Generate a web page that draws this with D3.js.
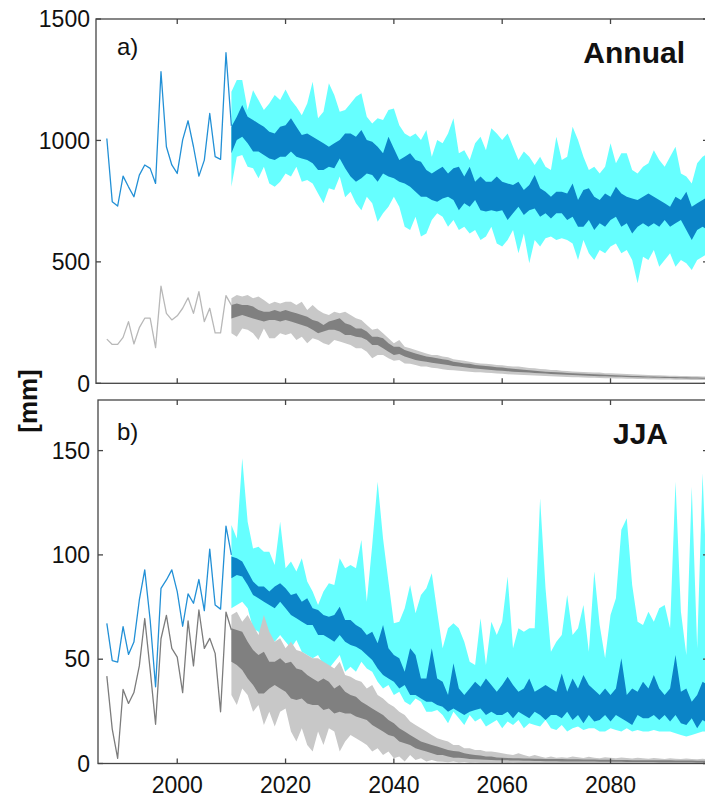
<!DOCTYPE html>
<html><head><meta charset="utf-8">
<script src="https://cdn.jsdelivr.net/npm/d3@7"></script>
<style>
body{margin:0;background:#fff}
svg{display:block}
text{font-family:Arial,"Liberation Sans",sans-serif;fill:#111}
</style></head>
<body><svg id="chart" width="705" height="801"></svg>
<script>
// ---------- DATA ----------
const obsYears = d3.range(1987, 2011);
const projYears = d3.range(2010, 2099);

const annObsBlue = [1008,748,730,853,809,768,857,899,885,823,1283,974,899,864,1002,1081,974,853,919,1111,933,922,1361,1060];
const annObsGray = [182,160,160,189,254,162,229,268,268,147,400,288,261,278,309,352,288,377,254,309,208,208,361,322];

const annHi = [1200,1249,1249,1125,1207,1166,1125,1152,1187,1166,
 1210,1166,1139,1104,1152,1242,1091,1118,1235,1187,
 1118,1125,1152,1180,1194,1098,1070,1091,1084,1125,
 1132,1063,1029,1015,1029,1002,1043,933,1002,988,
 1029,1091,947,960,919,988,1015,960,1050,1029,
 1002,1029,974,919,954,933,899,933,892,878,
 1015,919,933,1056,1002,933,878,892,864,892,
 988,906,947,947,878,864,892,906,960,919,
 892,933,974,864,851,823,906,933,947];
const annDh = [1056,1098,1146,1098,1084,1070,1056,1036,1029,1056,
 1063,1091,1056,1022,1029,1015,1002,988,974,988,
 1002,1029,1029,1015,1043,1002,995,974,947,1015,
 967,919,933,947,919,912,878,864,878,892,
 864,885,892,851,892,830,851,830,830,851,
 830,823,816,830,796,816,858,803,789,768,
 789,789,782,823,755,796,803,768,755,782,
 768,809,782,768,761,755,768,782,768,755,
 741,727,768,755,789,727,741,755,768];
const annDl = [947,1002,1015,988,954,954,940,926,919,933,
 933,954,933,926,919,906,878,878,892,885,
 926,885,851,830,844,864,858,830,864,851,
 844,830,823,809,789,768,768,755,748,761,
 768,755,713,741,727,755,713,707,713,707,
 713,672,700,727,693,713,720,686,700,679,
 700,700,672,686,645,645,672,631,659,645,
 672,686,645,659,617,645,659,645,659,645,
 672,645,659,672,631,590,631,645,631];
const annLo = [809,933,940,892,885,844,892,823,809,830,
 864,851,892,830,837,823,782,741,803,796,
 851,766,789,741,713,768,741,665,700,727,
 768,727,645,631,686,604,617,672,700,686,
 645,672,631,645,617,631,590,604,645,576,
 563,590,631,535,617,494,590,563,597,604,
 590,597,590,576,508,590,535,508,549,535,
 563,576,535,549,508,412,521,508,549,480,
 508,535,480,508,494,466,508,521,535];

const annGHi = [350,364,357,364,350,357,343,327,336,329,
 336,336,322,336,302,322,302,288,281,295,
 288,295,281,268,261,240,220,226,206,185,
 165,178,151,144,137,130,123,117,117,110,
 107,99,96,93,89,85,82,80,78,75,
 74,71,69,69,66,63,62,59,58,55,
 55,52,51,49,48,47,45,44,44,41,
 41,40,39,38,37,36,35,34,33,33,
 32,31,31,30,30,29,29,28,28];
const annGDh = [322,329,322,322,316,302,295,295,302,295,
 302,295,288,281,274,261,254,240,254,261,
 268,247,240,226,226,213,192,192,185,165,
 151,151,137,130,123,117,110,107,103,99,
 96,89,86,82,80,75,73,71,69,66,
 65,62,60,58,56,54,52,50,48,47,
 45,44,42,41,40,39,38,37,36,35,
 34,33,32,31,30,30,29,28,28,27,
 27,26,26,25,25,24,24,23,23];
const annGDl = [267,274,281,274,267,261,254,261,261,254,
 261,254,247,240,233,220,206,213,220,220,
 213,199,199,192,189,178,158,158,144,130,
 117,121,110,103,96,92,89,85,82,78,
 75,71,69,66,63,61,59,57,55,53,
 52,50,48,47,45,44,42,41,40,38,
 37,36,35,34,33,32,31,30,29,29,
 28,27,27,26,25,25,24,24,23,23,
 22,22,21,21,20,20,20,19,19];
const annGLo = [206,192,226,220,206,178,226,185,185,206,
 199,206,178,192,165,185,178,165,158,178,
 172,165,158,144,144,130,103,117,117,103,
 93,96,82,80,75,69,69,64,62,58,
 55,54,52,50,48,46,45,43,42,40,
 39,37,36,35,34,33,32,31,30,29,
 28,27,26,25,25,24,23,23,22,21,
 21,20,20,19,19,18,18,17,17,16,
 16,16,15,15,15,14,14,14,13];

const jjaObsBlue = [67.2,49.3,48.6,65.6,52.3,58.2,78.4,92.8,68.8,36.8,84.0,88.0,92.8,82.4,65.8,81.3,76.8,88.2,73.3,102.8,76.0,74.0,113.8,100.0];
const jjaObsGray = [41.9,16.5,2.5,35.5,28.8,34.0,46.8,69.5,45.0,18.8,59.8,71.0,55.2,51.0,34.0,68.4,46.8,73.6,55.2,60.0,52.8,24.8,72.6,64.0];

const jjaHi = [114.3,107.9,146.3,115.9,103.1,103.9,101.5,101.5,95.2,115.9,
 93.6,96.8,92.0,98.4,87.2,82.4,76.0,82.4,86.4,85.6,
 98.4,93.6,95.2,93.6,107.1,77.6,104.7,135.1,107.9,87.2,
 67.2,68.0,74.4,85.6,72.0,80.8,84.0,91.2,72.8,55.2,
 64.8,67.2,64.8,58.4,48.8,47.2,69.6,47.2,68.0,61.6,
 68.0,89.6,55.2,64.8,63.2,64.8,64.8,127.1,84.0,53.6,
 58.4,61.6,80.8,61.6,64.8,76.0,53.6,92.0,66.4,50.4,
 71.2,79.2,112.0,117.6,85.6,68.0,66.4,72.8,68.0,74.4,
 76.0,64.8,135.1,72.8,52.0,132.7,55.2,139.1,72.8];
const jjaDh = [99.2,98.4,96.8,92.0,87.2,84.8,84.8,82.4,84.8,86.4,
 84.0,80.8,81.6,77.6,79.2,74.4,73.6,71.2,70.4,71.2,
 75.2,68.8,68.8,66.4,64.8,61.6,63.2,57.6,66.4,55.2,
 52.0,50.4,44.0,55.2,52.0,40.8,40.8,55.2,40.8,39.2,
 32.8,48.0,36.0,32.8,36.0,39.2,36.8,40.8,37.6,34.4,
 37.6,41.6,37.6,34.4,36.0,40.8,34.4,36.0,37.6,36.0,
 34.4,43.2,34.4,40.8,36.0,42.4,37.6,35.2,32.8,36.0,
 32.8,36.0,50.4,32.8,36.0,34.4,39.2,36.0,42.4,36.0,
 32.8,36.0,52.0,34.4,36.0,29.6,32.8,39.2,37.6];
const jjaDl = [88.8,90.4,89.6,85.6,80.8,79.2,77.6,76.0,74.4,77.6,
 74.4,71.2,69.6,68.0,66.4,66.4,61.6,61.6,60.0,58.4,
 61.6,58.4,56.8,56.0,54.4,52.0,49.6,45.6,42.4,40.8,
 39.2,36.0,37.6,32.8,32.8,31.2,29.6,29.6,28.0,27.2,
 24.8,26.4,24.8,23.3,24.8,25.6,26.4,23.3,24.8,23.3,
 23.3,24.8,21.7,24.8,23.3,21.7,24.8,23.3,20.9,23.3,
 23.3,21.7,24.8,20.9,23.3,19.3,23.3,20.1,20.9,23.3,
 20.1,23.3,21.7,20.1,18.5,23.3,21.7,21.7,23.3,20.9,
 23.3,20.1,23.3,19.3,18.5,21.7,16.9,20.9,19.3];
const jjaLo = [74.4,76.0,77.6,74.4,64.8,63.2,55.2,61.6,58.4,61.6,
 58.4,55.2,59.2,53.6,52.0,50.4,52.0,47.2,45.6,48.8,
 52.0,44.0,46.4,44.0,48.8,45.6,44.0,39.2,36.0,37.6,
 32.8,34.4,29.6,28.0,31.2,29.6,24.8,24.8,25.6,23.3,
 19.3,24.8,21.7,18.5,23.3,20.1,21.7,17.7,19.3,20.9,
 16.9,20.1,18.5,20.9,16.9,19.3,18.5,17.7,20.9,16.9,
 16.1,18.5,15.3,16.9,17.7,16.1,16.9,16.9,15.3,15.3,
 16.9,16.1,15.3,16.9,15.3,16.1,15.3,15.3,16.1,15.3,
 15.3,15.3,14.5,13.7,12.9,13.7,14.5,15.3,15.3];

const jjaGHi = [71.2,72.8,68.0,71.2,66.4,61.6,71.2,63.2,58.4,60.0,
 55.2,58.4,54.4,53.6,52.0,50.4,50.4,48.8,47.2,45.6,
 48.8,42.4,41.6,40.0,39.2,36.0,37.6,32.8,31.2,28.8,
 27.2,24.8,23.3,20.1,18.5,16.9,15.3,13.7,12.1,11.3,
 10.5,8.9,8.9,7.3,7.3,6.5,6.5,5.7,5.7,5.4,
 4.9,4.4,4.1,4.9,4.1,3.3,4.1,3.3,2.8,3.3,
 2.8,3.0,2.8,3.3,3.0,2.6,3.2,2.8,2.5,3.0,
 2.7,2.5,2.9,2.6,2.4,2.8,2.5,2.3,2.6,2.4,
 2.2,2.5,2.3,2.1,2.4,2.2,2.0,2.3,2.1];
const jjaGDh = [64.8,64.0,63.2,58.4,54.4,52.0,53.6,48.8,48.8,50.4,
 48.0,48.8,45.6,44.8,42.4,40.8,39.2,40.8,39.2,36.0,
 37.6,34.4,32.8,32.0,29.6,28.0,26.4,24.8,23.3,20.9,
 19.3,16.9,15.3,13.7,12.1,10.5,9.7,8.9,8.1,7.3,
 6.5,6.0,5.7,4.9,4.4,4.1,3.8,3.3,3.3,2.9,
 2.8,2.6,2.5,2.5,2.4,2.4,2.3,2.3,2.2,2.2,
 2.1,2.1,2.0,2.0,2.0,1.9,1.9,1.9,1.8,1.8,
 1.8,1.7,1.7,1.7,1.6,1.6,1.6,1.6,1.5,1.5,
 1.5,1.5,1.4,1.4,1.4,1.4,1.3,1.3,1.3];
const jjaGDl = [48.8,47.2,44.8,40.8,37.6,33.6,33.6,36.0,37.6,36.0,
 34.4,31.2,30.4,31.2,28.8,28.0,28.0,25.6,26.4,24.0,
 24.8,24.0,24.0,22.5,21.7,20.9,18.5,16.9,15.3,13.7,
 12.9,10.5,9.7,8.9,7.3,6.5,5.7,4.9,4.1,4.1,
 3.3,2.8,2.8,2.5,2.2,2.0,1.9,1.8,1.7,1.6,
 1.5,1.5,1.4,1.4,1.3,1.3,1.2,1.2,1.1,1.1,
 1.1,1.0,1.0,1.0,0.9,0.9,0.9,0.9,0.8,0.8,
 0.8,0.8,0.8,0.7,0.7,0.7,0.7,0.7,0.7,0.6,
 0.6,0.6,0.6,0.6,0.6,0.6,0.5,0.5,0.5];
const jjaGLo = [32.8,28.0,36.0,32.8,24.8,28.0,18.5,24.8,17.7,24.8,
 26.4,15.3,10.5,16.9,8.9,5.7,15.3,8.9,16.9,15.3,
 5.7,10.5,13.7,12.1,10.5,8.9,5.7,7.3,4.1,5.7,
 2.5,3.3,0.9,4.1,1.7,2.5,0.9,1.7,0.9,0.8,
 0.6,0.9,0.5,0.7,0.4,0.5,0.4,0.3,0.4,0.3,
 0.3,0.2,0.3,0.2,0.2,0.2,0.2,0.1,0.2,0.1,
 0.1,0.1,0.1,0.1,0.1,0.1,0.1,0.1,0.1,0.1,
 0.1,0.1,0.1,0.1,0.1,0.1,0.1,0.1,0.1,0.1,
 0.1,0.1,0.1,0.1,0.1,0.1,0.1,0.1,0.1];

const xTickYears = [2000, 2020, 2040, 2060, 2080];
const annTicks = [0, 500, 1000, 1500];
const jjaTicks = [0, 50, 100, 150];

// ---------- STYLE ----------
const C = {
  cyan: "#66ffff", dblue: "#0b84c7", obsBlue: "#2290d6",
  glight: "#c8c8c8", gdark: "#808080", axis: "#454545"
};

const svg = d3.select("#chart");
const x = d3.scaleLinear().domain([1985, 2098]).range([96, 708]);

const panels = [
  { id:"a", left:96, top:19, bottom:383.3, ymax:1500, ticks:annTicks,
    obsBlue:annObsBlue, obsGray:annObsGray, obsGrayColor:"#b8b8b8",
    hi:annHi, dh:annDh, dl:annDl, lo:annLo,
    gHi:annGHi, gDh:annGDh, gDl:annGDl, gLo:annGLo,
    label:"a)", title:"Annual", labelY:55, titleX:685, titleY:63, xLabels:false },
  { id:"b", left:98, top:400, bottom:763.5, ymax:174.26, ticks:jjaTicks,
    obsBlue:jjaObsBlue, obsGray:jjaObsGray, obsGrayColor:"#7c7c7c",
    hi:jjaHi, dh:jjaDh, dl:jjaDl, lo:jjaLo,
    gHi:jjaGHi, gDh:jjaGDh, gDl:jjaGDl, gLo:jjaGLo,
    label:"b)", title:"JJA", labelY:440, titleX:668, titleY:444, xLabels:true }
];

const right = 708;

panels.forEach(p => {
  const y = d3.scaleLinear().domain([0, p.ymax]).range([p.bottom, p.top]);
  const clipId = "clip-" + p.id;
  svg.append("clipPath").attr("id", clipId)
    .append("rect").attr("x", p.left).attr("y", p.top)
    .attr("width", right - p.left).attr("height", p.bottom - p.top);
  const g = svg.append("g").attr("clip-path", `url(#${clipId})`);

  const band = (lo, hi) => d3.area()
    .x((d, i) => x(projYears[i]))
    .y0((d, i) => y(lo[i])).y1((d, i) => y(hi[i]))(projYears);

  // blue bands
  g.append("path").attr("d", band(p.lo, p.hi)).attr("fill", C.cyan);
  g.append("path").attr("d", band(p.dl, p.dh)).attr("fill", C.dblue);
  // gray bands on top
  g.append("path").attr("d", band(p.gLo, p.gHi)).attr("fill", C.glight);
  g.append("path").attr("d", band(p.gDl, p.gDh)).attr("fill", C.gdark);

  const line = arr => d3.line().x((d, i) => x(obsYears[i])).y((d) => y(d))(arr);
  g.append("path").attr("d", line(p.obsGray)).attr("fill", "none")
    .attr("stroke", p.obsGrayColor).attr("stroke-width", 1.3).attr("stroke-linejoin", "round");
  g.append("path").attr("d", line(p.obsBlue)).attr("fill", "none")
    .attr("stroke", C.obsBlue).attr("stroke-width", 1.3).attr("stroke-linejoin", "round");

  // frame
  const ax = svg.append("g").attr("stroke", C.axis).attr("stroke-width", 1.3).attr("fill", "none");
  ax.append("rect").attr("x", p.left).attr("y", p.top)
    .attr("width", right - p.left).attr("height", p.bottom - p.top);

  // x ticks (inward top and bottom)
  xTickYears.forEach(t => {
    const xx = x(t);
    ax.append("line").attr("x1", xx).attr("x2", xx).attr("y1", p.bottom).attr("y2", p.bottom - 5);
    ax.append("line").attr("x1", xx).attr("x2", xx).attr("y1", p.top).attr("y2", p.top + 5);
  });
  // y ticks (inward left and right)
  p.ticks.forEach(t => {
    const yy = y(t);
    ax.append("line").attr("x1", p.left).attr("x2", p.left + 5).attr("y1", yy).attr("y2", yy);
    ax.append("line").attr("x1", right).attr("x2", right - 5).attr("y1", yy).attr("y2", yy);
    svg.append("text").attr("x", 90).attr("y", yy).attr("dy", "0.36em")
      .attr("text-anchor", "end").attr("font-size", 23).text(d3.format("d")(t));
  });
  if (p.xLabels) {
    xTickYears.forEach(t => {
      svg.append("text").attr("x", x(t)).attr("y", 793)
        .attr("text-anchor", "middle").attr("font-size", 23).text(t);
    });
  }
  svg.append("text").attr("x", 117).attr("y", p.labelY).attr("font-size", 24).text(p.label);
  svg.append("text").attr("x", p.titleX).attr("y", p.titleY).attr("text-anchor", "end")
    .attr("font-size", 30).attr("font-weight", "bold").text(p.title);
});

svg.append("text").attr("transform", "translate(37,401) rotate(-90)")
  .attr("text-anchor", "middle").attr("font-size", 26).attr("font-weight", "bold").text("[mm]");
</script>
</body></html>
